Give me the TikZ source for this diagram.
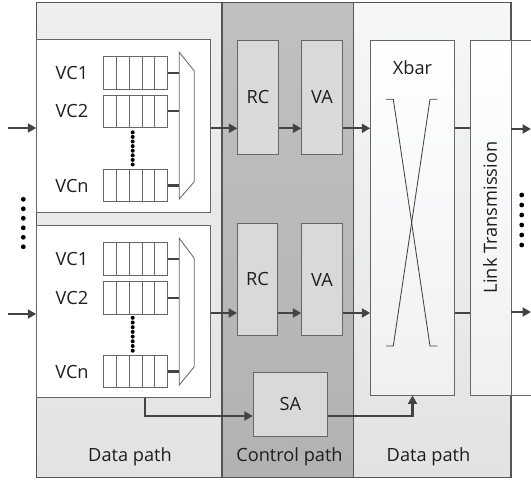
\documentclass[tikz,border=0pt]{standalone}
\usepackage{fontspec}
\setmainfont{Open Sans}
\usetikzlibrary{arrows.meta,fit,calc}
\definecolor{bordc}{HTML}{555555}
\definecolor{boxc}{HTML}{666666}
\definecolor{arrc}{HTML}{434343}
\definecolor{txtc}{HTML}{1E1E1E}
\definecolor{unitc}{HTML}{D9D9D9}
\definecolor{leftT}{HTML}{EEEEEE}
\definecolor{leftB}{HTML}{E3E3E3}
\definecolor{ctrlT}{HTML}{C0C0C0}
\definecolor{ctrlB}{HTML}{B2B2B2}
\definecolor{rightT}{HTML}{F6F7F8}
\definecolor{rightB}{HTML}{E2E2E2}
\definecolor{boxB}{HTML}{EEF0F2}
\newcommand{\qrow}[3]{%
  \node[whitebox, fit={(103.3,#2) (167.7,#2+32.6)}] (#1) {};
  \foreach \k in {1,...,4}{\draw[thinl] (103.3+\k*12.88,#2) -- (103.3+\k*12.88,#2+32.6);}
  \node[lbl] (#1lbl) at (72,#2+16.3) {#3};
}
\begin{document}
\begin{tikzpicture}[x=1pt,y=-1pt,
  panel/.style={draw=bordc, line width=1.2pt, inner sep=0pt},
  whitebox/.style={draw=boxc, line width=0.9pt, fill=white, inner sep=0pt},
  unit/.style={draw=boxc, line width=0.9pt, fill=unitc, inner sep=0pt},
  grbox/.style={draw=boxc, line width=0.9pt, top color=white, bottom color=boxB, inner sep=0pt},
  lbl/.style={font=\fontsize{18.2}{21}\selectfont, text=txtc, inner sep=0pt},
  arr/.style={draw=arrc, line width=2.3pt, -{Triangle[length=8.5pt,width=9pt]}},
  link/.style={draw=arrc, line width=2.3pt},
  thinl/.style={draw=boxc, line width=0.85pt},
  dot/.style={circle, fill=black, inner sep=0pt, minimum size=#1},
  dot/.default=4pt
]
\useasboundingbox (0,0) rectangle (531,481);
% panels
\node[panel, top color=leftT, bottom color=leftB, fit={(36.7,2.7) (222,477.7)}] (dpL) {};
\node[panel, top color=ctrlT, bottom color=ctrlB, fit={(222,2.7) (353.3,477.7)}] (cp) {};
\node[panel, top color=rightT, bottom color=rightB, fit={(353.3,2.7) (511,477.7)}] (dpR) {};
% rows
\coordinate (r1) at (0,128.3);
\coordinate (r2) at (0,313);
\coordinate (r3) at (0,416);
% input boxes
\node[whitebox, fit={(36.7,39.3) (210.7,212)}] (boxU) {};
\node[whitebox, fit={(36.7,225) (210.7,397.7)}] (boxL) {};
% queues
\qrow{qU1}{56.7}{VC1}
\qrow{qU2}{95}{VC2}
\qrow{qUn}{169.3}{VCn}
\qrow{qL1}{242.7}{VC1}
\qrow{qL2}{281.7}{VC2}
\qrow{qLn}{355.3}{VCn}
% muxes
\draw[thinl, fill=white] (179.3,52.3) coordinate (muxU) -- (194.3,71) -- (194.3,181.7) -- (179.3,199) -- cycle;
\draw[thinl, fill=white] (179.3,238.3) coordinate (muxL) -- (194.3,258.3) -- (194.3,366.7) -- (179.3,385) -- cycle;
\foreach \q in {qU1,qU2,qUn}{\draw[link] (\q.east) -- (\q.east -| muxU);}
\foreach \q in {qL1,qL2,qLn}{\draw[link] (\q.east) -- (\q.east -| muxL);}
% dots in queues
\foreach \i in {0,...,7}{
  \node[dot=4pt] (dU\i) at (132.7,132.3+\i*4.6) {};
  \node[dot=4pt] (dL\i) at (132.7,317.8+\i*4.7) {};
}
% left / right dots
\foreach \i in {0,...,5}{
  \node[dot=4.8pt] (dl\i) at (23.3,199.3+\i*9.5) {};
  \node[dot=4.8pt] (dr\i) at (521.7,195+\i*10) {};
}
% control units
\node[unit, minimum width=40.6pt, minimum height=113.3pt, lbl] (rcU) at (258,97.35) {RC};
\node[unit, minimum width=40.6pt, minimum height=113.3pt, lbl] (vaU) at (322,97.35) {VA};
\node[unit, minimum width=40pt, minimum height=112.4pt, lbl] (rcL) at (257.5,279.5) {RC};
\node[unit, minimum width=40.6pt, minimum height=112.4pt, lbl] (vaL) at (322,279.5) {VA};
\node[unit, minimum width=74.4pt, minimum height=63.3pt, lbl] (sa) at (290.5,404.35) {SA};
% xbar and link
\node[grbox, minimum width=83.6pt, minimum height=354.3pt] (xbar) at (412.5,217.85) {};
\node[lbl] (xbarlbl) at (412.5,67.8) {Xbar};
\draw[thinl, draw=arrc] (386,99.3) -- (393.3,99.3) -- (430,346) -- (437.3,346);
\draw[thinl, draw=arrc] (437.3,99.3) -- (430,99.3) -- (393.3,346) -- (386,346);
\node[grbox, minimum width=40.3pt, minimum height=354.3pt] (link) at (490.85,217.85) {};
\draw[thinl] (link.north east) -- ++(22,0);
\draw[thinl] (link.south east) -- ++(22,0);
\node[lbl, rotate=90] (linklbl) at (490,217.5) {Link Transmission};
% connectors
\coordinate (inU) at (8,128);
\coordinate (inL) at (8,314);
\coordinate (outU) at (531,129);
\coordinate (outL) at (531,312);
\draw[arr] (inU) -- (boxU.west |- inU);
\draw[arr] (inL) -- (boxL.west |- inL);
\draw[arr] (boxU.east |- r1) -- (rcU.west |- r1);
\draw[arr] (rcU.east |- r1) -- (vaU.west |- r1);
\draw[arr] (vaU.east |- r1) -- (xbar.west |- r1);
\draw[link] (xbar.east |- r1) -- (link.west |- r1);
\draw[arr] (link.east |- outU) -- (outU);
\draw[arr] (boxL.east |- r2) -- (rcL.west |- r2);
\draw[arr] (rcL.east |- r2) -- (vaL.west |- r2);
\draw[arr] (vaL.east |- r2) -- (xbar.west |- r2);
\draw[link] (xbar.east |- r2) -- (link.west |- r2);
\draw[arr] (link.east |- outL) -- (outL);
\coordinate (sax) at (145,0);
\draw[arr] (boxL.south -| sax) |- (sa.west |- r3);
\draw[arr] (sa.east |- r3) -| (xbar.south);
% bottom labels
\node[lbl, anchor=base] (lblL) at (130,461.5) {Data path};
\node[lbl, anchor=base] (lblC) at (289.5,461.5) {Control path};
\node[lbl, anchor=base] (lblR) at (428.5,461.5) {Data path};
\end{tikzpicture}
\end{document}
